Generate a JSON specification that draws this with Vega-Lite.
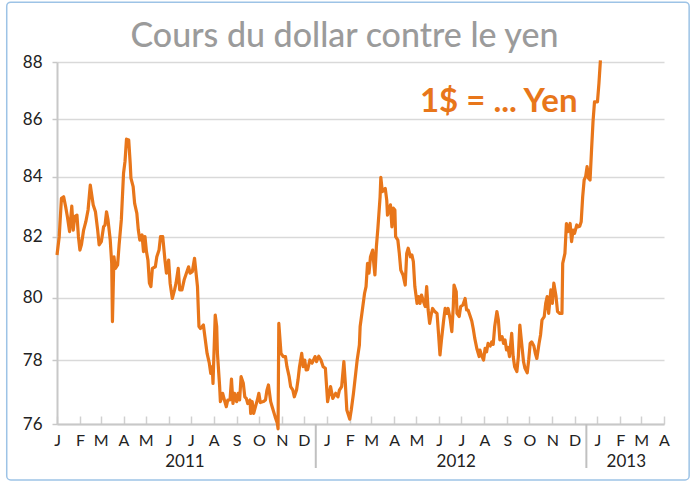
{
  "$schema": "https://vega.github.io/schema/vega-lite/v6.json",
  "width": 607,
  "height": 362,
  "autosize": {"type": "none"},
  "padding": {"left": 57, "top": 62, "right": 31, "bottom": 59},
  "background": "white",
  "title": {"text": "Cours du dollar contre le yen", "fontSize": 34, "font": "Lato", "fontWeight": 500, "color": "#9b9b9b", "anchor": "middle", "dx": -16, "offset": -52.5, "limit": 0},
  "config": {"view": {"stroke": null}, "font": "Lato"},
  "layer": [
    {
      "data": {"values": [
        {"date":"2011-01-01","v":81.40},{"date":"2011-01-04","v":82.00},{"date":"2011-01-07","v":83.28},{"date":"2011-01-10","v":83.33},{"date":"2011-01-13","v":82.96},{"date":"2011-01-15","v":82.67},{"date":"2011-01-18","v":82.17},{"date":"2011-01-21","v":83.02},{"date":"2011-01-23","v":82.22},{"date":"2011-01-25","v":82.67},{"date":"2011-01-28","v":82.72},{"date":"2011-01-30","v":82.00},
        {"date":"2011-02-01","v":81.56},{"date":"2011-02-03","v":81.73},{"date":"2011-02-06","v":82.22},{"date":"2011-02-09","v":82.50},{"date":"2011-02-12","v":82.89},{"date":"2011-02-15","v":83.72},{"date":"2011-02-17","v":83.39},{"date":"2011-02-19","v":83.06},{"date":"2011-02-22","v":82.83},{"date":"2011-02-25","v":82.22},{"date":"2011-02-27","v":81.73},
        {"date":"2011-03-02","v":81.84},{"date":"2011-03-05","v":82.33},{"date":"2011-03-07","v":82.39},{"date":"2011-03-09","v":82.83},{"date":"2011-03-11","v":82.56},{"date":"2011-03-14","v":81.89},{"date":"2011-03-16","v":81.12},{"date":"2011-03-17","v":79.23},{"date":"2011-03-19","v":81.34},{"date":"2011-03-21","v":80.96},{"date":"2011-03-24","v":81.07},{"date":"2011-03-26","v":81.73},{"date":"2011-03-29","v":82.56},
        {"date":"2011-04-01","v":84.12},{"date":"2011-04-03","v":84.53},{"date":"2011-04-05","v":85.30},{"date":"2011-04-08","v":85.27},{"date":"2011-04-10","v":84.47},{"date":"2011-04-11","v":83.95},{"date":"2011-04-14","v":83.67},{"date":"2011-04-16","v":83.11},{"date":"2011-04-19","v":82.78},{"date":"2011-04-21","v":82.22},{"date":"2011-04-23","v":81.89},{"date":"2011-04-26","v":82.06},{"date":"2011-04-28","v":81.51},{"date":"2011-04-30","v":82.00},
        {"date":"2011-05-02","v":81.51},{"date":"2011-05-04","v":81.23},{"date":"2011-05-06","v":80.47},{"date":"2011-05-08","v":80.36},{"date":"2011-05-10","v":80.96},{"date":"2011-05-14","v":81.01},{"date":"2011-05-16","v":81.34},{"date":"2011-05-19","v":81.56},{"date":"2011-05-21","v":82.00},{"date":"2011-05-24","v":82.00},{"date":"2011-05-27","v":81.23},{"date":"2011-05-29","v":80.80},
        {"date":"2011-06-01","v":81.23},{"date":"2011-06-03","v":80.47},{"date":"2011-06-06","v":79.97},{"date":"2011-06-09","v":80.25},{"date":"2011-06-11","v":80.47},{"date":"2011-06-14","v":80.96},{"date":"2011-06-16","v":80.25},{"date":"2011-06-19","v":80.25},{"date":"2011-06-22","v":80.58},{"date":"2011-06-25","v":80.80},{"date":"2011-06-28","v":81.01},{"date":"2011-06-30","v":80.80},
        {"date":"2011-07-03","v":80.85},{"date":"2011-07-06","v":81.29},{"date":"2011-07-10","v":80.36},{"date":"2011-07-12","v":79.07},{"date":"2011-07-14","v":79.01},{"date":"2011-07-18","v":79.12},{"date":"2011-07-20","v":78.75},{"date":"2011-07-23","v":78.21},{"date":"2011-07-26","v":77.90},{"date":"2011-07-28","v":77.58},{"date":"2011-07-30","v":77.79},{"date":"2011-07-31","v":77.27},
        {"date":"2011-08-03","v":79.44},{"date":"2011-08-05","v":79.07},{"date":"2011-08-06","v":78.21},{"date":"2011-08-09","v":77.17},{"date":"2011-08-10","v":76.70},{"date":"2011-08-13","v":76.96},{"date":"2011-08-16","v":76.70},{"date":"2011-08-18","v":76.54},{"date":"2011-08-20","v":76.75},{"date":"2011-08-23","v":76.75},{"date":"2011-08-25","v":77.40},{"date":"2011-08-27","v":76.64},{"date":"2011-08-29","v":76.96},
        {"date":"2011-09-01","v":76.70},{"date":"2011-09-03","v":76.96},{"date":"2011-09-05","v":76.75},{"date":"2011-09-07","v":77.48},{"date":"2011-09-10","v":77.27},{"date":"2011-09-12","v":76.85},{"date":"2011-09-14","v":76.80},{"date":"2011-09-16","v":76.64},{"date":"2011-09-19","v":76.75},{"date":"2011-09-20","v":76.33},{"date":"2011-09-22","v":76.70},{"date":"2011-09-24","v":76.33},{"date":"2011-09-27","v":76.59},{"date":"2011-09-29","v":76.75},
        {"date":"2011-10-01","v":76.96},{"date":"2011-10-03","v":76.67},{"date":"2011-10-07","v":76.70},{"date":"2011-10-10","v":76.75},{"date":"2011-10-12","v":77.06},{"date":"2011-10-14","v":77.22},{"date":"2011-10-17","v":76.70},{"date":"2011-10-19","v":76.54},{"date":"2011-10-23","v":76.23},{"date":"2011-10-26","v":76.02},{"date":"2011-10-27","v":75.85},{"date":"2011-10-28","v":79.17},{"date":"2011-10-31","v":78.21},
        {"date":"2011-11-03","v":78.11},{"date":"2011-11-06","v":78.11},{"date":"2011-11-08","v":77.79},{"date":"2011-11-11","v":77.48},{"date":"2011-11-13","v":77.17},{"date":"2011-11-16","v":77.06},{"date":"2011-11-18","v":76.85},{"date":"2011-11-21","v":77.06},{"date":"2011-11-23","v":77.38},{"date":"2011-11-25","v":77.79},{"date":"2011-11-28","v":78.21},{"date":"2011-11-30","v":77.79},
        {"date":"2011-12-02","v":78.00},{"date":"2011-12-04","v":77.69},{"date":"2011-12-06","v":77.70},{"date":"2011-12-09","v":78.00},{"date":"2011-12-12","v":77.90},{"date":"2011-12-16","v":78.11},{"date":"2011-12-18","v":77.95},{"date":"2011-12-21","v":78.12},{"date":"2011-12-24","v":78.00},{"date":"2011-12-27","v":77.79},{"date":"2011-12-30","v":77.74},
        {"date":"2012-01-02","v":76.70},{"date":"2012-01-06","v":77.17},{"date":"2012-01-09","v":76.80},{"date":"2012-01-13","v":76.96},{"date":"2012-01-16","v":76.85},{"date":"2012-01-18","v":77.06},{"date":"2012-01-21","v":77.17},{"date":"2012-01-24","v":77.95},{"date":"2012-01-26","v":77.27},{"date":"2012-01-28","v":76.44},
        {"date":"2012-02-01","v":76.15},{"date":"2012-02-03","v":76.44},{"date":"2012-02-06","v":76.96},{"date":"2012-02-09","v":77.58},{"date":"2012-02-11","v":78.00},{"date":"2012-02-14","v":78.48},{"date":"2012-02-15","v":79.07},{"date":"2012-02-18","v":79.60},{"date":"2012-02-21","v":80.14},{"date":"2012-02-23","v":80.36},{"date":"2012-02-25","v":81.12},{"date":"2012-02-27","v":80.80},{"date":"2012-02-29","v":81.34},
        {"date":"2012-03-03","v":81.56},{"date":"2012-03-04","v":81.23},{"date":"2012-03-06","v":80.74},{"date":"2012-03-08","v":81.67},{"date":"2012-03-10","v":82.28},{"date":"2012-03-13","v":83.33},{"date":"2012-03-14","v":83.98},{"date":"2012-03-16","v":83.50},{"date":"2012-03-20","v":83.61},{"date":"2012-03-22","v":83.22},{"date":"2012-03-23","v":82.72},{"date":"2012-03-25","v":82.89},{"date":"2012-03-27","v":83.06},{"date":"2012-03-29","v":82.33},{"date":"2012-03-31","v":82.95},
        {"date":"2012-04-02","v":82.89},{"date":"2012-04-03","v":82.00},{"date":"2012-04-06","v":81.89},{"date":"2012-04-08","v":81.45},{"date":"2012-04-10","v":80.90},{"date":"2012-04-13","v":80.74},{"date":"2012-04-16","v":80.41},{"date":"2012-04-18","v":81.45},{"date":"2012-04-20","v":81.62},{"date":"2012-04-23","v":81.34},{"date":"2012-04-25","v":81.40},{"date":"2012-04-27","v":81.18},{"date":"2012-04-29","v":80.36},
        {"date":"2012-05-02","v":79.81},{"date":"2012-05-04","v":80.03},{"date":"2012-05-06","v":79.81},{"date":"2012-05-08","v":80.08},{"date":"2012-05-10","v":79.92},{"date":"2012-05-13","v":79.71},{"date":"2012-05-15","v":80.36},{"date":"2012-05-17","v":79.60},{"date":"2012-05-19","v":79.17},{"date":"2012-05-21","v":79.44},{"date":"2012-05-23","v":79.65},{"date":"2012-05-26","v":79.55},{"date":"2012-05-29","v":79.49},{"date":"2012-05-31","v":78.85},
        {"date":"2012-06-02","v":78.16},{"date":"2012-06-04","v":78.64},{"date":"2012-06-07","v":79.28},{"date":"2012-06-09","v":79.65},{"date":"2012-06-11","v":79.49},{"date":"2012-06-13","v":79.65},{"date":"2012-06-16","v":79.28},{"date":"2012-06-18","v":78.91},{"date":"2012-06-20","v":79.71},{"date":"2012-06-21","v":80.41},{"date":"2012-06-24","v":80.19},{"date":"2012-06-25","v":79.49},{"date":"2012-06-28","v":79.39},{"date":"2012-06-30","v":79.71},
        {"date":"2012-07-03","v":79.76},{"date":"2012-07-06","v":79.97},{"date":"2012-07-08","v":79.60},{"date":"2012-07-10","v":79.60},{"date":"2012-07-13","v":79.39},{"date":"2012-07-15","v":79.25},{"date":"2012-07-17","v":79.00},{"date":"2012-07-19","v":78.70},{"date":"2012-07-22","v":78.35},{"date":"2012-07-25","v":78.11},{"date":"2012-07-26","v":78.32},{"date":"2012-07-28","v":78.16},{"date":"2012-07-31","v":78.00},
        {"date":"2012-08-02","v":78.37},{"date":"2012-08-04","v":78.26},{"date":"2012-08-06","v":78.53},{"date":"2012-08-09","v":78.45},{"date":"2012-08-11","v":78.58},{"date":"2012-08-13","v":78.50},{"date":"2012-08-15","v":79.07},{"date":"2012-08-18","v":79.55},{"date":"2012-08-20","v":79.28},{"date":"2012-08-22","v":78.64},{"date":"2012-08-25","v":78.75},{"date":"2012-08-27","v":78.53},{"date":"2012-08-29","v":78.64},{"date":"2012-08-31","v":78.32},
        {"date":"2012-09-02","v":78.40},{"date":"2012-09-04","v":78.11},{"date":"2012-09-07","v":78.85},{"date":"2012-09-09","v":78.11},{"date":"2012-09-11","v":77.79},{"date":"2012-09-14","v":77.64},{"date":"2012-09-16","v":78.11},{"date":"2012-09-18","v":79.12},{"date":"2012-09-20","v":78.64},{"date":"2012-09-23","v":77.95},{"date":"2012-09-25","v":77.74},{"date":"2012-09-28","v":77.60},{"date":"2012-09-30","v":78.00},
        {"date":"2012-10-02","v":78.53},{"date":"2012-10-04","v":78.58},{"date":"2012-10-07","v":78.45},{"date":"2012-10-09","v":78.21},{"date":"2012-10-11","v":78.05},{"date":"2012-10-14","v":78.53},{"date":"2012-10-16","v":78.80},{"date":"2012-10-18","v":79.28},{"date":"2012-10-21","v":79.39},{"date":"2012-10-23","v":79.81},{"date":"2012-10-25","v":80.03},{"date":"2012-10-27","v":79.49},{"date":"2012-10-30","v":80.25},
        {"date":"2012-11-01","v":79.81},{"date":"2012-11-03","v":80.47},{"date":"2012-11-06","v":80.03},{"date":"2012-11-08","v":79.55},{"date":"2012-11-11","v":79.49},{"date":"2012-11-14","v":79.49},{"date":"2012-11-15","v":81.12},{"date":"2012-11-18","v":81.45},{"date":"2012-11-20","v":82.44},{"date":"2012-11-22","v":82.17},{"date":"2012-11-25","v":82.44},{"date":"2012-11-27","v":81.84},{"date":"2012-11-29","v":82.22},
        {"date":"2012-12-01","v":82.11},{"date":"2012-12-04","v":82.39},{"date":"2012-12-06","v":82.33},{"date":"2012-12-08","v":82.35},{"date":"2012-12-10","v":82.50},{"date":"2012-12-12","v":83.33},{"date":"2012-12-14","v":83.89},{"date":"2012-12-16","v":84.00},{"date":"2012-12-18","v":84.35},{"date":"2012-12-20","v":83.95},{"date":"2012-12-22","v":83.89},{"date":"2012-12-24","v":84.93},{"date":"2012-12-26","v":85.91},{"date":"2012-12-28","v":86.60},{"date":"2012-12-30","v":86.60},
        {"date":"2013-01-01","v":86.60},{"date":"2013-01-03","v":87.25},{"date":"2013-01-05","v":88.06}
      ]},
      "mark": {"type": "line", "color": "#E8761A", "strokeWidth": 3.2, "strokeJoin": "round", "clip": false},
      "encoding": {
        "x": {
          "field": "date", "type": "temporal",
          "scale": {"type": "utc", "domain": ["2011-01-01", "2013-04-01"], "nice": false},
          "axis": {
            "title": null, "tickCount": {"interval": "month", "step": 1},
            "labelExpr": "['J','F','M','A','M','J','J','A','S','O','N','D'][utcmonth(datum.value)]",
            "labelOverlap": false, "labelFlush": false, "labelBound": false, "grid": false,
            "domainColor": "#c8c8c8", "domainWidth": 2, "tickColor": "#d0d0d0", "tickWidth": 1.5, "tickSize": -8,
            "labelPadding": 16, "labelFontSize": 16, "labelColor": "#222222", "labelFont": "Lato", "labelAlign": "center", "labelBaseline": "top"
          }
        },
        "y": {
          "field": "v", "type": "quantitative",
          "scale": {"domain": [76, 78, 80, 82, 84, 86, 88], "range": [362, 298, 235.5, 174.7, 114.7, 57, 0], "nice": false, "zero": false},
          "axis": {
            "title": null, "values": [76, 78, 80, 82, 84, 86, 88], "grid": true, "gridColor": "#d9d9d9", "gridWidth": 1.5,
            "domainColor": "#c8c8c8", "domainWidth": 2, "tickColor": "#c8c8c8", "tickSize": 5, "tickWidth": 1.5,
            "labelFontSize": 17, "labelPadding": 10, "labelColor": "#222222", "labelFont": "Lato"
          }
        }
      }
    },
    {
      "data": {"values": [{"from": "2010-10-25", "to": "2013-05-05", "top": 90.1, "bottom": 74.25}]},
      "mark": {"type": "rect", "fill": null, "stroke": "#9dc3e6", "strokeWidth": 1.5, "cornerRadius": 4, "clip": false},
      "encoding": {
        "x": {"field": "from", "type": "temporal"},
        "x2": {"field": "to"},
        "y": {"field": "top", "type": "quantitative"},
        "y2": {"field": "bottom"}
      }
    },
    {
      "data": {"values": [{"label": "1$ = ... Yen", "date": "2012-12-05", "v": 86.25}]},
      "mark": {"type": "text", "font": "Lato", "fontSize": 33, "fontWeight": "bold", "letterSpacing": 1, "color": "#E8761A", "align": "right", "baseline": "alphabetic", "clip": false},
      "encoding": {
        "x": {"field": "date", "type": "temporal"},
        "y": {"field": "v", "type": "quantitative"},
        "text": {"field": "label"}
      }
    },
    {
      "data": {"values": [{"date": "2011-12-17", "v": 76, "v2": 74.625}, {"date": "2012-12-17", "v": 76, "v2": 74.625}]},
      "mark": {"type": "rule", "color": "#c0c0c0", "strokeWidth": 2, "clip": false},
      "encoding": {
        "x": {"field": "date", "type": "temporal"},
        "y": {"field": "v", "type": "quantitative"},
        "y2": {"field": "v2"}
      }
    },
    {
      "data": {"values": [{"label": "2011", "date": "2011-06-23", "v": 74.81}, {"label": "2012", "date": "2012-06-24", "v": 74.81}, {"label": "2013", "date": "2013-02-09", "v": 74.81}]},
      "mark": {"type": "text", "font": "Lato", "fontSize": 17, "color": "#222222", "align": "center", "baseline": "middle", "clip": false},
      "encoding": {
        "x": {"field": "date", "type": "temporal"},
        "y": {"field": "v", "type": "quantitative"},
        "text": {"field": "label"}
      }
    }
  ]
}
